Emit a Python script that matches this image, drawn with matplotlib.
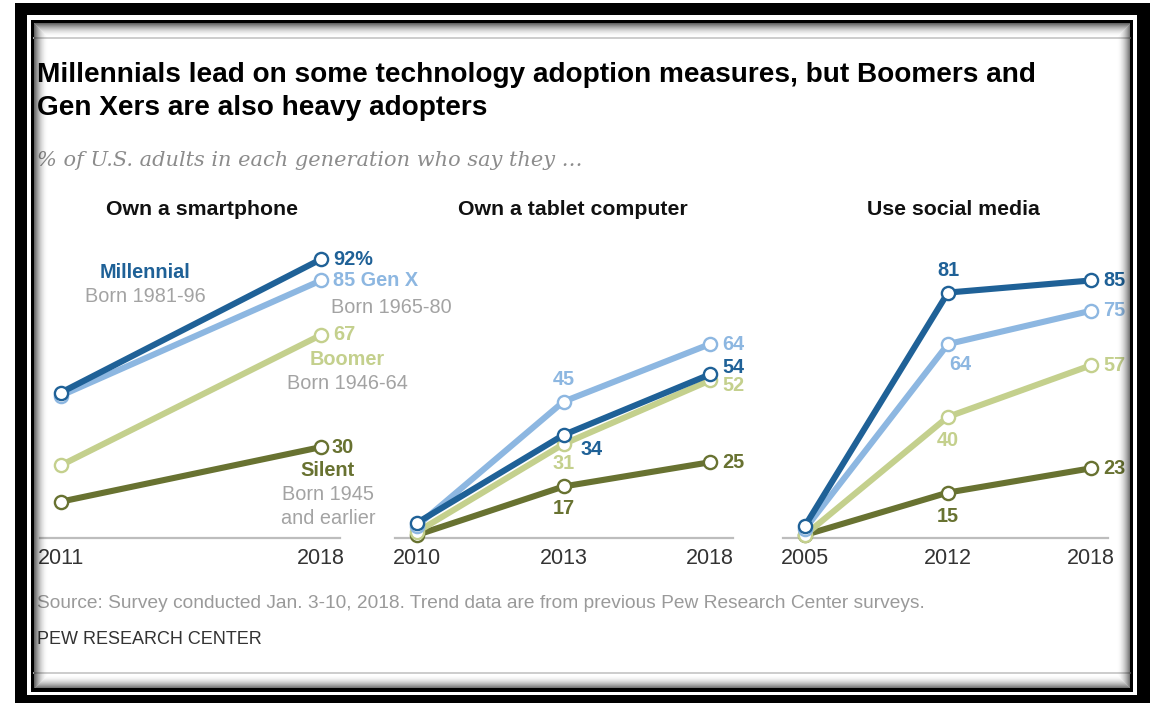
import matplotlib.pyplot as plt
from matplotlib.patches import Rectangle
from matplotlib.lines import Line2D

W, H = 1154, 703

# data (% of adults)
generations = ['Silent', 'Boomer', 'Gen X', 'Millennial']   # drawing order
colors = {'Millennial': '#1f6197', 'Gen X': '#8db7e1',
          'Boomer': '#c4d08d', 'Silent': '#687231'}

smart_years = ['2011', '2018']
smart = {'Millennial': [48, 92], 'Gen X': [47, 85],
         'Boomer': [24, 67], 'Silent': [12, 30]}

tablet_years = ['2010', '2013', '2018']
tablet = {'Millennial': [5, 34, 54], 'Gen X': [4, 45, 64],
          'Boomer': [2, 31, 52], 'Silent': [1, 17, 25]}

social_years = ['2005', '2012', '2018']
social = {'Millennial': [4, 81, 85], 'Gen X': [3, 64, 75],
          'Boomer': [1, 40, 57], 'Silent': [1, 15, 23]}

FONT = 'Liberation Sans'
GRAY = '#a3a3a3'

fig = plt.figure(figsize=(W / 100, H / 100), dpi=100)
fig.patch.set_facecolor('white')


def fx(x):
    return x / W


def fy(y):
    return 1 - y / H


def rect(x0, y0, x1, y1, **kw):
    r = Rectangle((fx(x0), fy(y1)), fx(x1) - fx(x0), fy(y0) - fy(y1),
                  transform=fig.transFigure, **kw)
    fig.add_artist(r)


# frame: thick black, white gap, thin black, white page
rect(15, 3, 1150, 703, facecolor='black', edgecolor='none', zorder=-10)
rect(27, 15, 1137, 695, facecolor='white', edgecolor='none', zorder=-9)
rect(31, 20, 1133, 692, facecolor='black', edgecolor='none', zorder=-8)
rect(34, 23, 1130, 688, facecolor='white', edgecolor='none', zorder=-7)
for y in (38, 673):
    fig.add_artist(Line2D([fx(34), fx(1130)], [fy(y), fy(y)], color='#c8c8c8',
                          lw=1.3, transform=fig.transFigure, zorder=-6))
# inner shadow, drawn over everything
for k in range(14):
    a = 0.6 * (1 - k / 14) ** 2
    rect(34 + k, 23 + k, 1130 - k, 688 - k, facecolor='none',
         edgecolor=(0, 0, 0, a), lw=0.75, zorder=20)

# titles
fig.text(fx(37), fy(82), 'Millennials lead on some technology adoption measures, but Boomers and',
         fontsize=20.2, fontweight='bold', family=FONT, va='baseline', color='black')
fig.text(fx(37), fy(115), 'Gen Xers are also heavy adopters',
         fontsize=20.2, fontweight='bold', family=FONT, va='baseline', color='black')
fig.text(fx(37), fy(166), '% of U.S. adults in each generation who say they \u2026',
         fontsize=15, style='italic', family='DejaVu Serif', va='baseline', color='#8c8c8c')

fig.text(fx(37), fy(604), 'Source: Survey conducted Jan. 3-10, 2018. Trend data are from previous '
         'Pew Research Center surveys.', fontsize=13.8, family=FONT, va='center', color='#9a9a9a')
fig.text(fx(37), fy(640), 'PEW RESEARCH CENTER', fontsize=13, family=FONT, va='center',
         color='#333333')


def draw_panel(left, right, x0, x1, years, values, title, title_x):
    n = len(years)
    sp = (x1 - x0) / (n - 1)
    ax = fig.add_axes([fx(left), fy(538), fx(right) - fx(left), 303 / H])
    ax.set_facecolor('none')
    ax.set_xlim(-(x0 - left) / sp, (n - 1) + (right - x1) / sp)
    ax.set_ylim(0, 100)
    for s in ('top', 'left', 'right'):
        ax.spines[s].set_visible(False)
    ax.spines['bottom'].set_color('#bdbdbd')
    ax.spines['bottom'].set_linewidth(1.6)
    ax.set_yticks([])
    ax.set_xticks(range(n))
    ax.set_xticklabels(years, family=FONT, fontsize=15.5, color='#333333')
    ax.tick_params(axis='x', length=0, pad=7)
    for z, g in enumerate(generations):
        c = colors[g]
        ax.plot(range(n), values[g], color=c, lw=4.4, marker='o', ms=9.5,
                mfc='white', mec=c, mew=1.7, clip_on=False, zorder=3 + z,
                solid_capstyle='round')
    fig.text(fx(title_x), fy(209), title, fontsize=15.3, fontweight='bold',
             family=FONT, ha='center', va='center', color='#111111')
    return ax


def lab(ax, x, y, s, color, dx, dy, ha='left', bold=True):
    ax.annotate(s, (x, y), xytext=(dx, dy), textcoords='offset pixels',
                ha=ha, va='center', color=color, fontsize=14.3, family=FONT,
                fontweight='bold' if bold else 'normal', annotation_clip=False,
                zorder=10)


# Own a smartphone
ax1 = draw_panel(40, 340, 61, 321, smart_years, smart, 'Own a smartphone', 202)
m, gx, b, s = smart['Millennial'], smart['Gen X'], smart['Boomer'], smart['Silent']
lab(ax1, 1, m[1], f'{m[1]}%', colors['Millennial'], 12, 0)
lab(ax1, 1, gx[1], f'{gx[1]} Gen X', colors['Gen X'], 12, 0)
lab(ax1, 1, gx[1], 'Born 1965-80', GRAY, 10, -27, bold=False)
lab(ax1, 1, b[1], f'{b[1]}', colors['Boomer'], 12, 0)
lab(ax1, 1, b[1], 'Boomer', colors['Boomer'], 26, -25, ha='center')
lab(ax1, 1, b[1], 'Born 1946-64', GRAY, 26, -49, ha='center', bold=False)
lab(ax1, 1, s[1], f'{s[1]}', colors['Silent'], 11, 0)
lab(ax1, 1, s[1], 'Silent', colors['Silent'], 7, -23, ha='center')
lab(ax1, 1, s[1], 'Born 1945', GRAY, 7, -47, ha='center', bold=False)
lab(ax1, 1, s[1], 'and earlier', GRAY, 7, -71, ha='center', bold=False)
lab(ax1, 0, m[0], 'Millennial', colors['Millennial'], 84, 120, ha='center')
lab(ax1, 0, m[0], 'Born 1981-96', GRAY, 84, 96, ha='center', bold=False)

# Own a tablet computer
ax2 = draw_panel(395, 733, 417, 710, tablet_years, tablet, 'Own a tablet computer', 573)
m, gx, b, s = tablet['Millennial'], tablet['Gen X'], tablet['Boomer'], tablet['Silent']
lab(ax2, 1, gx[1], f'{gx[1]}', colors['Gen X'], 0, 22, ha='center')
lab(ax2, 1, m[1], f'{m[1]}', colors['Millennial'], 28, -15, ha='center')
lab(ax2, 1, b[1], f'{b[1]}', colors['Boomer'], 0, -19, ha='center')
lab(ax2, 1, s[1], f'{s[1]}', colors['Silent'], 0, -22, ha='center')
lab(ax2, 2, gx[2], f'{gx[2]}', colors['Gen X'], 12, 0)
lab(ax2, 2, m[2], f'{m[2]}', colors['Millennial'], 12, 7)
lab(ax2, 2, b[2], f'{b[2]}', colors['Boomer'], 12, -5)
lab(ax2, 2, s[2], f'{s[2]}', colors['Silent'], 12, 0)

# Use social media
ax3 = draw_panel(783, 1108, 805, 1091, social_years, social, 'Use social media', 953)
m, gx, b, s = social['Millennial'], social['Gen X'], social['Boomer'], social['Silent']
lab(ax3, 1, m[1], f'{m[1]}', colors['Millennial'], 0, 22, ha='center')
lab(ax3, 1, gx[1], f'{gx[1]}', colors['Gen X'], 12, -20, ha='center')
lab(ax3, 1, b[1], f'{b[1]}', colors['Boomer'], 0, -24, ha='center')
lab(ax3, 1, s[1], f'{s[1]}', colors['Silent'], 0, -24, ha='center')
for g in ('Millennial', 'Gen X', 'Boomer', 'Silent'):
    lab(ax3, 2, social[g][2], f'{social[g][2]}', colors[g], 12, 0)

fig.savefig('out.png', dpi=100)
